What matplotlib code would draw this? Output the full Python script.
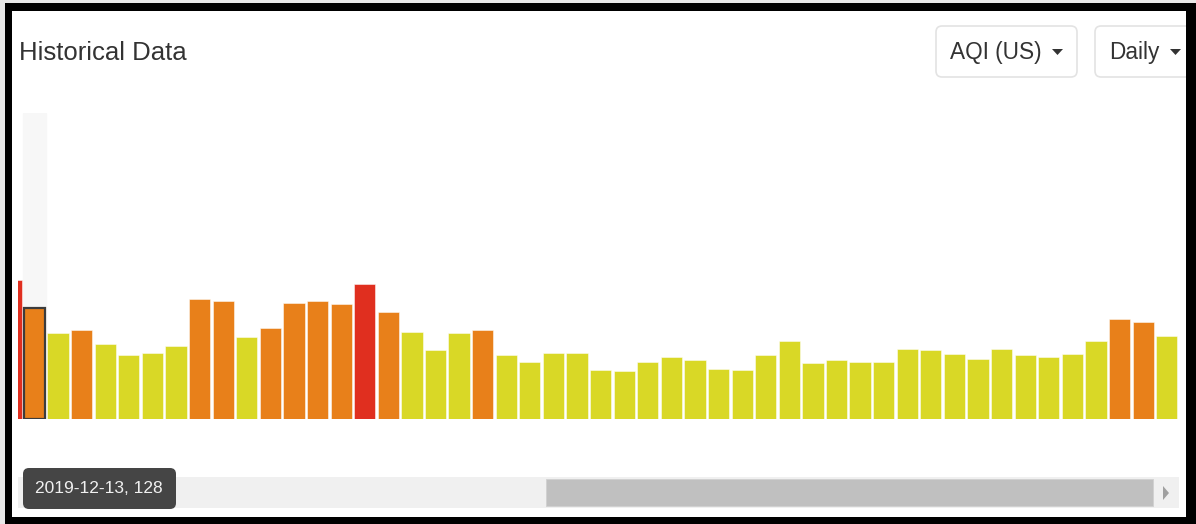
import matplotlib
matplotlib.use("Agg")
import matplotlib.pyplot as plt
from matplotlib import font_manager
from matplotlib.patches import Rectangle, FancyBboxPatch, Polygon


# daily AQI (US) values, first bar is the clipped one at the left edge
aqi = [160, 128, 99, 103, 87, 74, 76, 84, 139, 136, 95, 105, 134, 136, 133, 156,
       124, 100, 80, 99, 103, 74, 66, 76, 76, 56, 55, 66, 71, 68, 58, 56, 74, 90,
       65, 68, 66, 66, 81, 80, 75, 69, 81, 74, 72, 75, 90, 115, 112, 96]
selected_index = 1
selected_date = "2019-12-13"
title = "Historical Data"
dropdowns = ["AQI (US)", "Daily"]

W, H = 1196, 524


def pick_font() -> str:
    names = {f.name for f in font_manager.fontManager.ttflist}
    for name in ["Liberation Sans Narrow", "Liberation Sans", "DejaVu Sans"]:
        if name in names:
            return name
    return "DejaVu Sans"


FONT = pick_font()
NARROW = "Narrow" in FONT


def aqi_color(v: float) -> str:
    if v <= 50:
        return "#4caf50"
    if v <= 100:
        return "#d9d826"
    if v <= 150:
        return "#e8801a"
    return "#e02f1f"


def px(x0, y0, x1, y1):
    # pixel box -> figure fraction rect
    return [x0 / W, 1 - y1 / H, (x1 - x0) / W, (y1 - y0) / H]


fig = plt.figure(figsize=(W / 100, H / 100), dpi=100)
fig.patch.set_facecolor("white")

# bar chart
ax = fig.add_axes(px(18, 113, 1179, 419))
xs = list(range(-1, len(aqi) - 1))
ax.axvspan(selected_index - 1 - 0.5, selected_index - 1 + 0.5, color="#f7f7f7", zorder=0)
bars = ax.bar(xs, aqi, width=0.9, color=[aqi_color(v) for v in aqi],
              edgecolor=(1, 1, 1, 0.5), linewidth=0.7, zorder=2)
bars[selected_index].set_edgecolor("#3c3c3c")
bars[selected_index].set_linewidth(1.6)
ax.set_xlim(-0.70, 48.52)
ax.set_ylim(0, 353)
ax.axis("off")

# overlay in pixel coordinates
ov = fig.add_axes([0, 0, 1, 1])
ov.set_xlim(0, W)
ov.set_ylim(H, 0)
ov.axis("off")
ov.patch.set_alpha(0)

ov.text(19, 53, title, fontsize=21.5 if NARROW else 18.5, family=FONT,
        color="#333333", va="center", ha="left")

# dropdown boxes
boxes = [(936, 26, 1077, 77), (1095, 26, 1200, 77)]
for (x0, y0, x1, y1), label in zip(boxes, dropdowns):
    ov.add_patch(FancyBboxPatch((x0, y0), x1 - x0, y1 - y0,
                                boxstyle="round,pad=0,rounding_size=6",
                                facecolor="white", edgecolor="#e3e3e3", linewidth=1.2))
    ov.text(x0 + 14, 52, label, fontsize=20 if NARROW else 16.3, family=FONT,
            color="#333333", va="center", ha="left")
    tx = x1 - 25 if label != "Daily" else 1170
    ov.add_patch(Polygon([(tx, 49), (tx + 11, 49), (tx + 5.5, 55)], closed=True,
                         facecolor="#333333", edgecolor="none"))

# scrollbar
ov.add_patch(Rectangle((18, 477), 1179 - 18, 31, facecolor="#f0f0f0", edgecolor="none"))
ov.add_patch(Rectangle((546, 479), 1153 - 546, 27, facecolor="#c0c0c0", edgecolor="#d0d0d0",
                       linewidth=0.6))
ov.add_patch(Polygon([(1163, 486), (1169, 493), (1163, 500)], closed=True,
                     facecolor="#a0a0a0", edgecolor="none"))

# tooltip
ov.add_patch(FancyBboxPatch((23, 468), 153, 41, boxstyle="round,pad=0,rounding_size=6",
                            facecolor="#454545", edgecolor="none"))
ov.text(99, 488.5, f"{selected_date}, {aqi[selected_index]}", fontsize=15.2 if NARROW else 12.5,
        family=FONT, color="#f0f0f0", va="center", ha="center")

# black frame of the screenshot
for r in [(0, 0, W, 3), (0, 0, 5, H)]:
    ov.add_patch(Rectangle((r[0], r[1]), r[2], r[3], facecolor="#e8e8e8", edgecolor="none"))
for r in [(5, 3, W - 5, 8), (5, 3, 7, H - 3), (1186, 3, 10, H - 3), (5, 517, W - 5, 7)]:
    ov.add_patch(Rectangle((r[0], r[1]), r[2], r[3], facecolor="black", edgecolor="none"))

fig.savefig("out.png", dpi=100)
